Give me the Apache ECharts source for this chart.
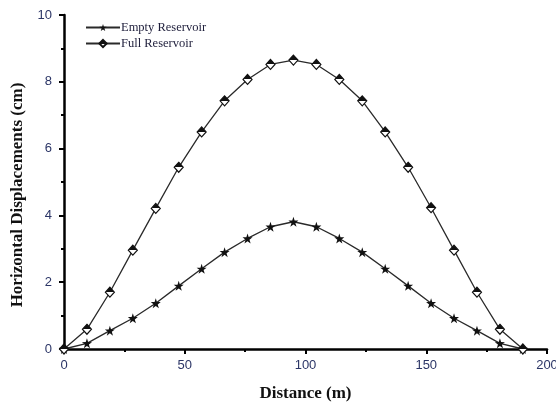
<!DOCTYPE html>
<html>
<head>
<meta charset="utf-8">
<script src="https://cdn.jsdelivr.net/npm/echarts@6/dist/echarts.min.js"></script>
<style>
  html, body { margin: 0; padding: 0; background: #fff; }
  #chart { width: 556px; height: 405px; }
</style>
</head>
<body>
<div id="chart"></div>
<script>
const distance = [0, 9.5, 19, 28.5, 38, 47.5, 57, 66.5, 76, 85.5, 95, 104.5, 114, 123.5, 133, 142.5, 152, 161.5, 171, 180.5, 190];
const emptyReservoir = [0, 0.17, 0.55, 0.92, 1.37, 1.89, 2.4, 2.9, 3.31, 3.66, 3.81, 3.66, 3.31, 2.9, 2.4, 1.89, 1.37, 0.92, 0.55, 0.17, 0];
const fullReservoir = [0, 0.59, 1.7, 2.96, 4.21, 5.44, 6.5, 7.43, 8.07, 8.52, 8.65, 8.52, 8.07, 7.43, 6.5, 5.44, 4.23, 2.96, 1.7, 0.59, 0];

const chart = echarts.init(document.getElementById('chart'));

const pairs = (ys) => distance.map((x, i) => [x, ys[i]]);

// top half black, bottom half white
const halfFill = new echarts.graphic.LinearGradient(0, 0, 0, 1, [
  { offset: 0, color: '#111' },
  { offset: 0.5, color: '#111' },
  { offset: 0.5, color: '#fff' },
  { offset: 1, color: '#fff' },
]);

const labelFont = { fontFamily: 'Liberation Sans', fontSize: 13, color: '#2b3566' };
const titleFont = { fontFamily: 'Liberation Serif', fontSize: 17, fontWeight: 'bold', color: '#111' };

chart.setOption({
  animation: false,
  grid: { left: 64, right: 9, top: 15, bottom: 56, outerBoundsMode: 'none' },
  legend: {
    orient: 'vertical',
    left: 80,
    top: 16,
    itemWidth: 34,
    itemHeight: 9,
    itemGap: 3,
    textStyle: { fontFamily: 'Liberation Serif', fontSize: 12.5, color: '#1d1d3a', padding: [0, 0, 0, -4] },
    data: ['Empty Reservoir', 'Full Reservoir'],
  },
  xAxis: {
    type: 'value',
    min: 0,
    max: 200,
    interval: 50,
    name: 'Distance (m)',
    nameLocation: 'middle',
    nameGap: 36,
    nameTextStyle: titleFont,
    axisLine: { lineStyle: { color: '#000', width: 2.5 } },
    axisTick: { inside: false, length: 5, lineStyle: { color: '#000', width: 2 } },
    minorTick: { show: true, splitNumber: 2, length: 3, lineStyle: { color: '#000', width: 2 } },
    axisLabel: Object.assign({ margin: 10 }, labelFont),
    splitLine: { show: false },
  },
  yAxis: {
    type: 'value',
    min: 0,
    max: 10,
    interval: 2,
    name: 'Horizontal Displacements (cm)',
    nameLocation: 'middle',
    nameGap: 38,
    nameTextStyle: Object.assign({ padding: [0, 26, 0, 0] }, titleFont),
    axisLine: { lineStyle: { color: '#000', width: 2.5 } },
    axisTick: { inside: false, length: 5, lineStyle: { color: '#000', width: 2 } },
    minorTick: { show: true, splitNumber: 2, length: 3, lineStyle: { color: '#000', width: 2 } },
    axisLabel: Object.assign({ margin: 12 }, labelFont),
    splitLine: { show: false },
  },
  series: [
    {
      name: 'Empty Reservoir',
      type: 'line',
      data: pairs(emptyReservoir),
      symbol: 'path://M10 0L12.4 7.2L20 7.3L13.9 11.8L16.2 19L10 14.6L3.8 19L6.1 11.8L0 7.3L7.6 7.2Z',
      symbolSize: 10,
      itemStyle: { color: '#111', borderWidth: 0 },
      lineStyle: { color: '#2a2a2a', width: 1.3 },
      z: 3,
    },
    {
      name: 'Full Reservoir',
      type: 'line',
      data: pairs(fullReservoir),
      symbol: 'diamond',
      symbolSize: [9, 10],
      itemStyle: { color: halfFill, borderColor: '#111', borderWidth: 1.2 },
      lineStyle: { color: '#2a2a2a', width: 1.3 },
      z: 3,
    },
  ],
});
</script>
</body>
</html>
